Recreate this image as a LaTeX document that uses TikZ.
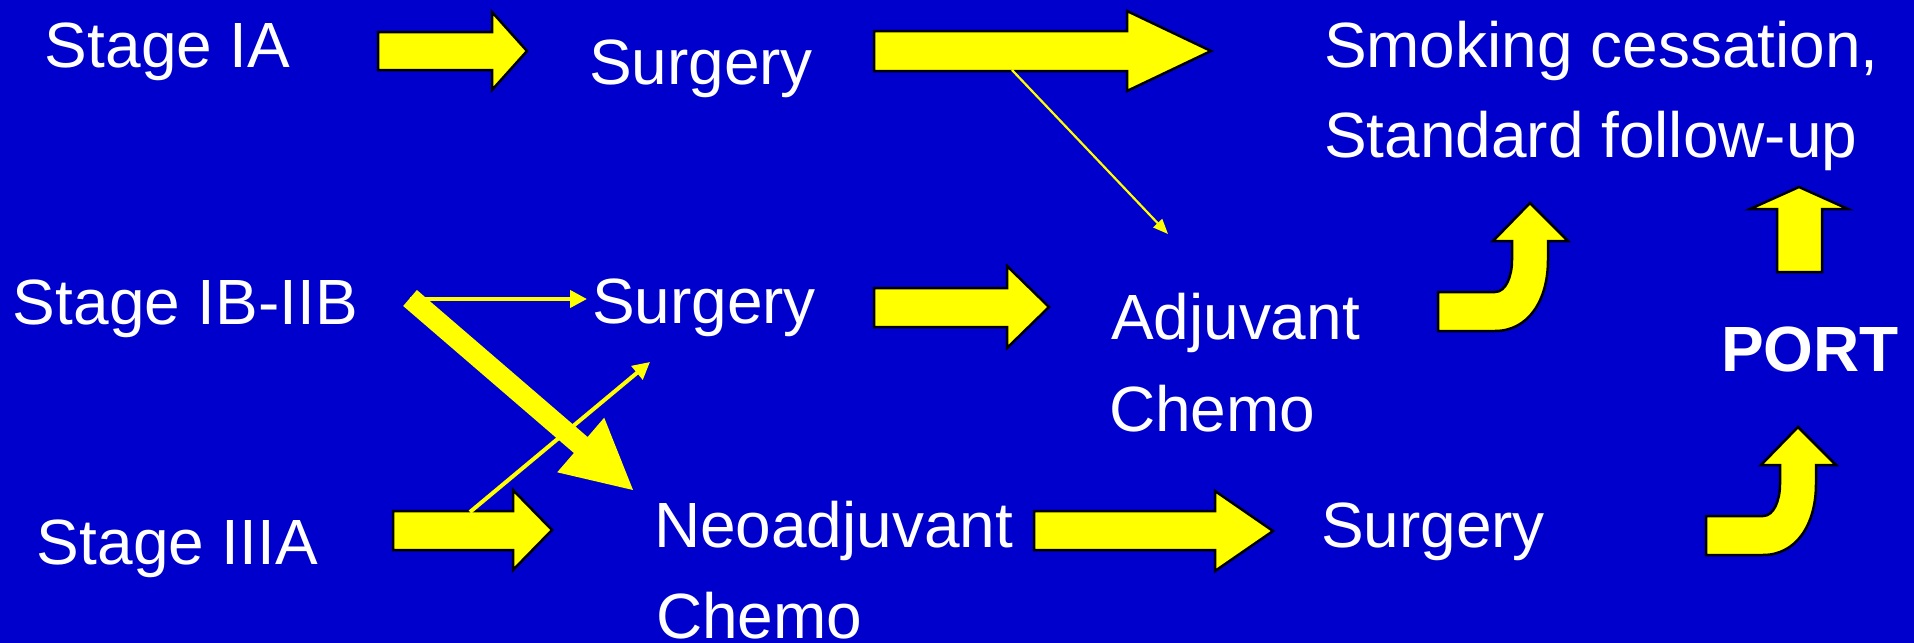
\documentclass[tikz,border=0pt]{standalone}
\usepackage{fontspec}
\setmainfont{Liberation Sans}
\usetikzlibrary{arrows.meta}
\definecolor{bgblue}{RGB}{0,0,204}
\definecolor{ayellow}{RGB}{255,255,0}
\begin{document}
\begin{tikzpicture}[x=0.1mm,y=-0.1mm,
  lbl/.style={text=white,anchor=base west,inner sep=0pt,outer sep=0pt,font=\fontsize{18.2pt}{22pt}\selectfont},
  blockarrow/.style={fill=ayellow,draw=black,line width=0.25mm,line join=miter},
  fatarrow/.style={fill=ayellow,draw=none},
  thinarrow/.style={draw=ayellow,line width=0.4mm,-{Triangle[length=1.7mm,width=1.7mm]}},
  hairarrow/.style={draw=ayellow,line width=0.22mm,-{Triangle[length=1.5mm,width=1.2mm]}}]
\fill[bgblue] (0,0) rectangle (1914,643);
\useasboundingbox (0,0) rectangle (1914,643);

% texts
\node[lbl] (ia) at (45,67) {Stage IA};
\node[lbl] (surg1) at (589,84) {Surgery};
\node[lbl] (smoke) at (1324,67) {Smoking cessation,};
\node[lbl] (follow) at (1324,158) {Standard follow-up};
\node[lbl] (ibiib) at (13,324) {Stage IB-IIB};
\node[lbl] (surg2) at (592,323) {Surgery};
\node[lbl] (adj) at (1111,339) {Adjuvant};
\node[lbl] (adjchemo) at (1109,431) {Chemo};
\node[lbl,font=\fontsize{18.2pt}{22pt}\selectfont\bfseries] (port) at (1721,371) {PORT};
\node[lbl] (iiia) at (37,564) {Stage IIIA};
\node[lbl] (neo) at (654,547) {Neoadjuvant};
\node[lbl] (neochemo) at (656,638) {Chemo};
\node[lbl] (surg3) at (1321,547) {Surgery};

% block arrows
\draw[blockarrow] (378,32) -- (492,32) -- (492,12) -- (527,51) -- (492,90) -- (492,70) -- (378,70) -- cycle;
\draw[blockarrow] (874,31) -- (1127,31) -- (1127,11) -- (1211,51) -- (1127,91) -- (1127,71) -- (874,71) -- cycle;
\draw[blockarrow] (874,288) -- (1007,288) -- (1007,266) -- (1049,307) -- (1007,348) -- (1007,327) -- (874,327) -- cycle;
\draw[blockarrow] (393,511) -- (513,511) -- (513,490) -- (552,530) -- (513,570) -- (513,550) -- (393,550) -- cycle;
\draw[blockarrow] (1034,511) -- (1215,511) -- (1215,491) -- (1273,531) -- (1215,571) -- (1215,550) -- (1034,550) -- cycle;
\draw[blockarrow] (1777,272) -- (1777,209) -- (1750,209) -- (1799,187) -- (1848,209) -- (1822,209) -- (1822,272) -- cycle;

% bent arrows
\foreach \sx/\sy in {1438/331, 1706/555}{
  \begin{scope}[shift={(\sx,\sy)}]
  \draw[blockarrow] (0,0) -- (0,-39) -- (57,-39) .. controls (68,-39) and (74,-55) .. (74,-71)
    -- (74,-90) -- (55,-90) -- (92,-128) -- (130,-90) -- (110,-90) -- (110,-71)
    .. controls (110,-30) and (90,0) .. (57,0) -- cycle;
  \end{scope}
}

% fat arrow IB-IIB -> Neoadjuvant
\fill[fatarrow] (416.9,290.0) -- (587.6,437.0) -- (604.2,417.7) -- (633,490) -- (557.2,472.3) -- (573.9,453.0) -- (403.2,306.0) -- cycle;

% thin arrows
\coordinate (t1s) at (1012,70);
\coordinate (t1e) at (1168,234);
\draw[hairarrow] (t1s) -- (t1e);
\coordinate (t2s) at (410,299);
\coordinate (t2e) at (587,299);
\draw[thinarrow] (t2s) -- (t2e);
\coordinate (t3s) at (470,512);
\coordinate (t3e) at (650,362);
\draw[thinarrow] (t3s) -- (t3e);
\end{tikzpicture}
\end{document}
